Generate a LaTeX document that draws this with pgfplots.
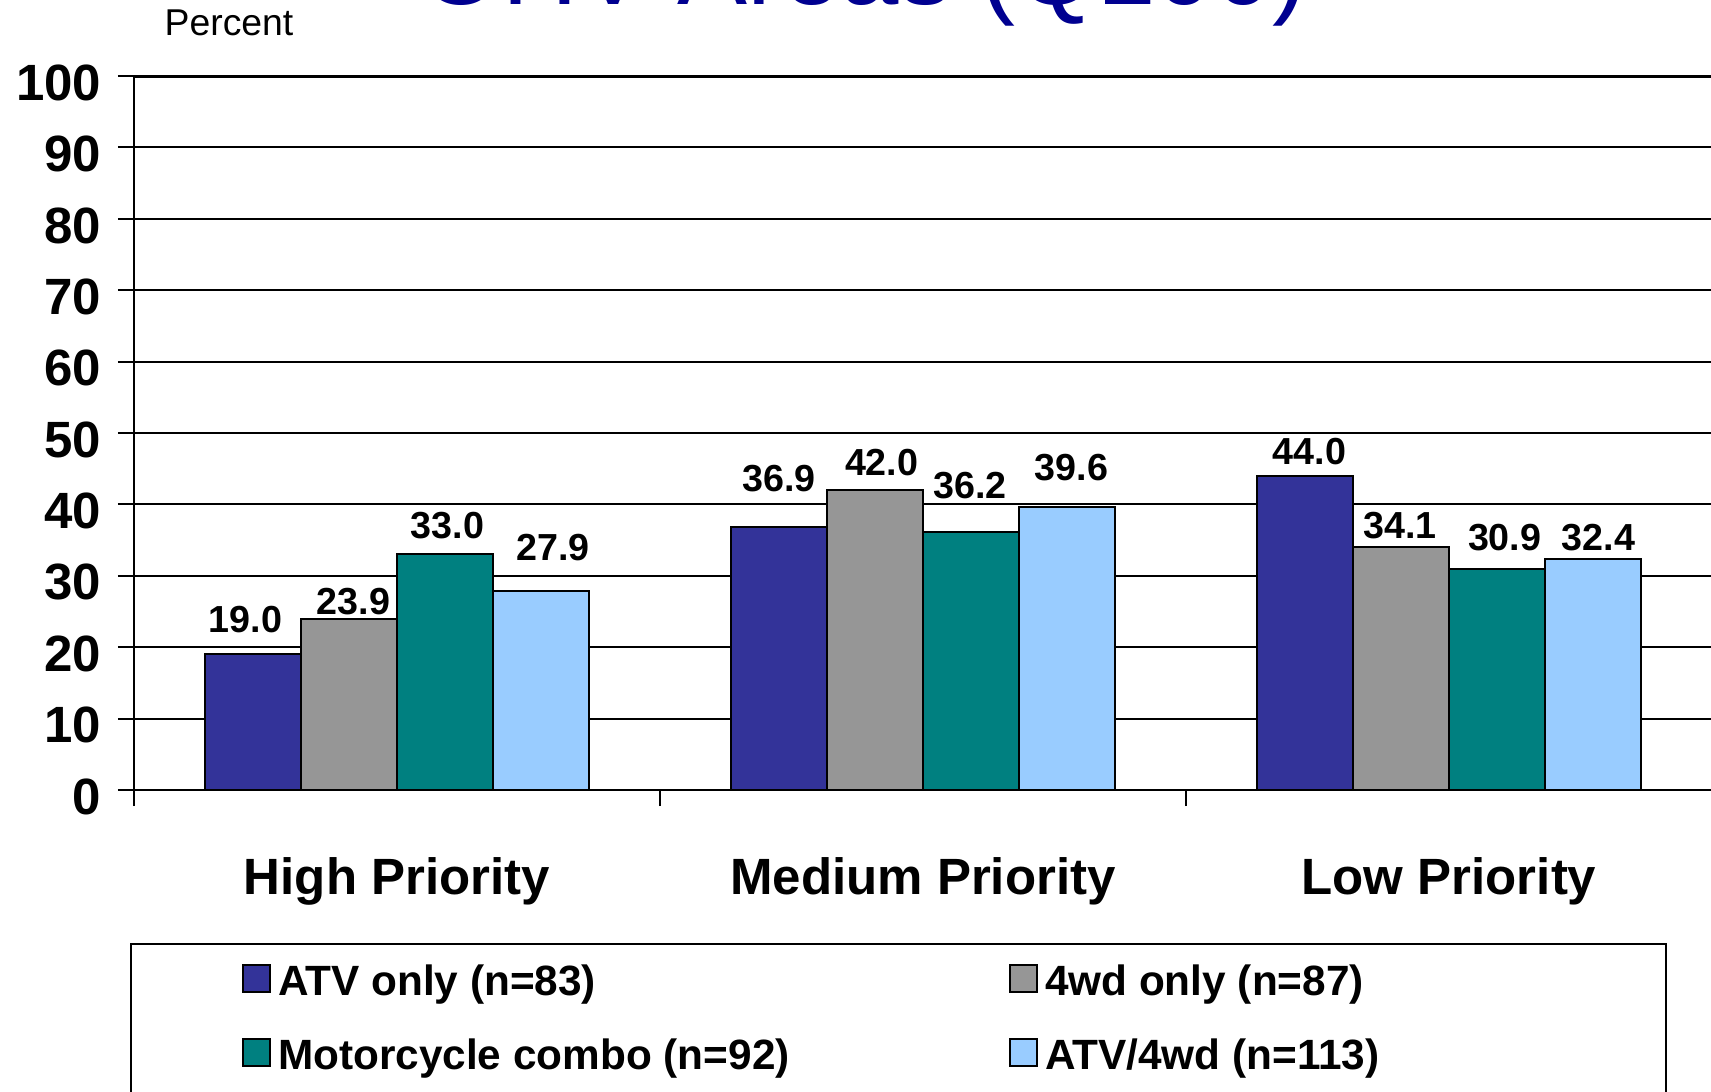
\documentclass[border=0pt]{standalone}
\usepackage{pgfplots}
\pgfplotsset{compat=1.18}
\usepackage{pgfplotstable}
\usepackage{fontspec}
\setmainfont{Liberation Sans}
\definecolor{cATV}{HTML}{333399}
\definecolor{cFwd}{HTML}{969696}
\definecolor{cMoto}{HTML}{008080}
\definecolor{cBoth}{HTML}{99CCFF}
\definecolor{titleblue}{HTML}{000090}

\pgfplotstableread{
x y off xoff
0.5 19.0 10.5 -2.3
1.5 36.9 14.4 0
2.5 44.0 7.2 1.3
}\atv
\pgfplotstableread{
x y off xoff
0.5 23.9 5.2 1.3
1.5 42.0 8.2 2
2.5 34.1 6.2 -0.3
}\fwd
\pgfplotstableread{
x y off xoff
0.5 33.0 8.5 0.7
1.5 36.2 13.7 -0.3
2.5 30.9 9.5 2.3
}\moto
\pgfplotstableread{
x y off xoff
0.5 27.9 13.1 3.6
1.5 39.6 11.8 1.3
2.5 32.4 6.2 1.6
}\both

\begin{document}
\begin{tikzpicture}
\path[use as bounding box] (0,0) rectangle (513.3pt,327.3pt);
\clip (0,0) rectangle (513.3pt,327.3pt);
\node[anchor=base west, font=\fontsize{31.5}{36}\selectfont, text=titleblue, inner sep=0] at (126pt,326pt) {OHV Areas (Q100)};
\node[anchor=base west, font=\fontsize{11.2}{13}\selectfont, inner sep=0] at (49.2pt,316.5pt) {Percent};
\begin{axis}[
  at={(40.2pt,90.3pt)}, anchor=south west,
  scale only axis, width=473.4pt, height=214.2pt,
  xmin=0, xmax=3, ymin=0, ymax=100,
  axis x line*=bottom, axis y line*=left,
  axis line style={line width=0.55pt},
  tick align=outside, major tick length=4.8pt,
  tick style={black, line width=0.55pt},
  xtick={0,1,2,3}, x tick label as interval,
  xticklabels={High Priority, Medium Priority, Low Priority},
  ytick={0,10,...,100},
  ymajorgrids, major grid style={black, line width=0.6pt},
  /pgf/number format/assume math mode=true,
  yticklabel style={font=\bfseries\fontsize{15.3}{17}\selectfont, xshift=-1.5pt, yshift=-2pt},
  xticklabel style={font=\bfseries\fontsize{15.3}{18}\selectfont, yshift=-12pt},
  ybar=0pt, bar width=28.8pt,
  visualization depends on={\thisrow{off} \as \ly},
  visualization depends on={\thisrow{xoff} \as \lx},
  nodes near coords={\pgfmathprintnumber[fixed,fixed zerofill,precision=1]{\pgfplotspointmeta}},
  every node near coord/.append style={font=\bfseries\fontsize{11.3}{13}\selectfont, anchor=center, yshift=\ly pt, xshift=\lx pt},
  legend columns=2,
  legend cell align=left,
  legend style={at={(-0.0025,-0.2143)}, anchor=north west, draw=black, line width=0.6pt,
    inner xsep=33.3pt, inner ysep=4.3pt, row sep=7.5pt,
    font=\bfseries\fontsize{12.7}{15}\selectfont},
  legend image code/.code={\draw[#1, line width=0.6pt] (0pt,-2.8pt) rectangle (8.2pt,5.4pt);},
]
\addplot[fill=cATV, draw=black, line width=0.6pt] table[x=x,y=y] {\atv};
\addlegendentry{\makebox[217.3pt][l]{ATV only (n=83)}}
\addplot[fill=cFwd, draw=black, line width=0.6pt] table[x=x,y=y] {\fwd};
\addlegendentry{\makebox[151.1pt][l]{4wd only (n=87)}}
\addplot[fill=cMoto, draw=black, line width=0.6pt] table[x=x,y=y] {\moto};
\addlegendentry{\makebox[217.3pt][l]{Motorcycle combo (n=92)}}
\addplot[fill=cBoth, draw=black, line width=0.6pt] table[x=x,y=y] {\both};
\addlegendentry{\makebox[151.1pt][l]{ATV/4wd (n=113)}}
\draw[line width=1pt] (rel axis cs:0,1) -- (rel axis cs:1,1);
\end{axis}
\end{tikzpicture}
\end{document}
